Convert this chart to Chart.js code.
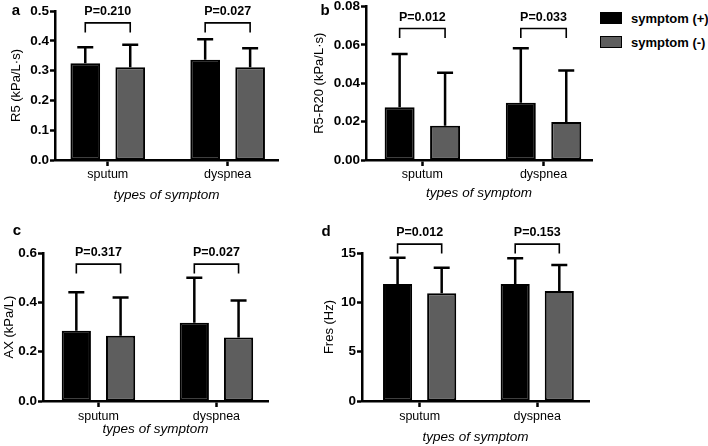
<!DOCTYPE html>
<html>
<head>
<meta charset="utf-8">
<script src="https://cdn.jsdelivr.net/npm/chart.js@4.4.0/dist/chart.umd.min.js"></script>
<style>
  body { margin: 0; background: #fff; }
  #wrap { position: relative; width: 708px; height: 446px; overflow: hidden; }
  canvas { position: absolute; }
  #legend { position: absolute; left: 600px; top: 6px; font: bold 13px "Liberation Sans", Arial, sans-serif; color: #000; }
  .item { display: flex; align-items: center; height: 24px; white-space: nowrap; }
  .box { box-sizing: border-box; width: 22px; height: 12px; border: 1.5px solid #000; margin-right: 9px; }
</style>
</head>
<body>
<div id="wrap">
  <canvas id="panelA" width="300" height="223" style="left:0;top:0"></canvas>
  <canvas id="panelB" width="300" height="223" style="left:300px;top:0"></canvas>
  <canvas id="panelC" width="300" height="223" style="left:0;top:223px"></canvas>
  <canvas id="panelD" width="300" height="223" style="left:300px;top:223px"></canvas>
  <div id="legend"></div>
</div>
<script>
"use strict";

// kategorier och serier
const categories = ['sputum', 'dyspnea'];
const seriesNames = ['symptom (+)', 'symptom (-)'];
const seriesColors = ['#000000', '#5e5e5e'];

// a - R5
const r5Pos = [0.325, 0.336];
const r5PosSd = [0.053, 0.069];
const r5Neg = [0.311, 0.311];
const r5NegSd = [0.076, 0.064];
const r5Ticks = ['0.0', '0.1', '0.2', '0.3', '0.4', '0.5'];
const r5P = ['P=0.210', 'P=0.027'];

// b - R5-R20
const r520Pos = [0.0275, 0.0299];
const r520PosSd = [0.0277, 0.0283];
const r520Neg = [0.0179, 0.0198];
const r520NegSd = [0.0276, 0.0269];
const r520Ticks = ['0.00', '0.02', '0.04', '0.06', '0.08'];
const r520P = ['P=0.012', 'P=0.033'];

// c - AX
const axPos = [0.285, 0.317];
const axPosSd = [0.156, 0.183];
const axNeg = [0.265, 0.257];
const axNegSd = [0.155, 0.150];
const axTicks = ['0.0', '0.2', '0.4', '0.6'];
const axP = ['P=0.317', 'P=0.027'];

// d - Fres
const fresPos = [11.86, 11.86];
const fresPosSd = [2.66, 2.60];
const fresNeg = [10.92, 11.15];
const fresNegSd = [2.59, 2.63];
const fresTicks = ['0', '5', '10', '15'];
const fresP = ['P=0.012', 'P=0.153'];

const FONT = '"Liberation Sans", Arial, sans-serif';

/**
 * Inställningar för varje delpanel (layout och texter)
 */
const panels = [
    { id: 'panelA', letter: 'a', letterPos: [16, 11], yTitle: 'R5 (kPa/L·s)',
      pos: r5Pos, posSd: r5PosSd, neg: r5Neg, negSd: r5NegSd, ticks: r5Ticks, pv: r5P,
      yMax: 0.5, yStep: 0.1, xMin: -0.44, xMax: 1.42, bracket: 0.46,
      pad: { top: 11, right: 22 }, yWidth: 55, xHeight: 63, yTitlePad: 8.9, xTitlePad: 20, tickPad: 1.5 },
    { id: 'panelB', letter: 'b', letterPos: [25, 11], yTitle: 'R5-R20 (kPa/L·s)',
      pos: r520Pos, posSd: r520PosSd, neg: r520Neg, negSd: r520NegSd, ticks: r520Ticks, pv: r520P,
      yMax: 0.08, yStep: 0.02, xMin: -0.465, xMax: 1.40, bracket: 0.0685,
      pad: { top: 6.5, right: 8 }, yWidth: 66, xHeight: 63, yTitlePad: 11.5, xTitlePad: 21.6, tickPad: 1.5 },
    { id: 'panelC', letter: 'c', letterPos: [17, 8], yTitle: 'AX (kPa/L)',
      pos: axPos, posSd: axPosSd, neg: axNeg, negSd: axNegSd, ticks: axTicks, pv: axP,
      yMax: 0.6, yStep: 0.2, xMin: -0.47, xMax: 1.437, bracket: 0.555,
      pad: { top: 30, right: 32 }, yWidth: 43, xHeight: 45, yTitlePad: 1.2, xTitlePad: 8.6, tickPad: 2 },
    { id: 'panelD', letter: 'd', letterPos: [26, 9], yTitle: 'Fres (Hz)',
      pos: fresPos, posSd: fresPosSd, neg: fresNeg, negSd: fresNegSd, ticks: fresTicks, pv: fresP,
      yMax: 15, yStep: 5, xMin: -0.49, xMax: 1.44, bracket: 15.9,
      pad: { top: 30, right: 11 }, yWidth: 62, xHeight: 45, yTitlePad: 21.2, xTitlePad: 0.9, tickPad: 2 }
];

/**
 * Gör om värden till punkter på den linjära x-axeln
 */
function toPoints(values) {
    return values.map((v, i) => ({ x: i, y: v }));
}

/**
 * Plugin som ritar felstaplar, P-värden med klammer och panelbokstav
 */
function extras(p) {
    return {
        id: 'extras',
        afterDatasetsDraw(chart) {
            const ctx = chart.ctx;
            const y = chart.scales.y;
            ctx.save();
            ctx.strokeStyle = '#000';
            ctx.lineWidth = 2.5;
            chart.data.datasets.forEach((ds, d) => {
                chart.getDatasetMeta(d).data.forEach((bar, i) => {
                    const top = y.getPixelForValue(ds.data[i].y + ds.sd[i]);
                    ctx.beginPath();
                    ctx.moveTo(bar.x, bar.y);
                    ctx.lineTo(bar.x, top);
                    ctx.moveTo(bar.x - 8, top);
                    ctx.lineTo(bar.x + 8, top);
                    ctx.stroke();
                });
            });

            const by = y.getPixelForValue(p.bracket);
            const m0 = chart.getDatasetMeta(0).data;
            const m1 = chart.getDatasetMeta(1).data;
            ctx.lineWidth = 1.6;
            ctx.fillStyle = '#000';
            ctx.font = 'bold 12.5px ' + FONT;
            ctx.textAlign = 'center';
            ctx.textBaseline = 'middle';
            categories.forEach((c, i) => {
                const x1 = m0[i].x, x2 = m1[i].x;
                ctx.beginPath();
                ctx.moveTo(x1, by + 9.5);
                ctx.lineTo(x1, by);
                ctx.lineTo(x2, by);
                ctx.lineTo(x2, by + 9.5);
                ctx.stroke();
                ctx.fillText(p.pv[i], (x1 + x2) / 2, by - 11.5);
            });

            ctx.font = 'bold 15px ' + FONT;
            ctx.fillText(p.letter, p.letterPos[0], p.letterPos[1]);
            ctx.restore();
        }
    };
}

/**
 * Skapar ett stapeldiagram för en panel
 */
function createPanel(p) {
    const ctx = document.getElementById(p.id).getContext('2d');
    new Chart(ctx, {
        type: 'bar',
        data: {
            datasets: [{
                label: seriesNames[0],
                data: toPoints(p.pos),
                sd: p.posSd,
                backgroundColor: seriesColors[0],
                borderColor: '#000',
                borderWidth: 2,
                borderSkipped: false,
                categoryPercentage: 0.75,
                barPercentage: 0.66
            }, {
                label: seriesNames[1],
                data: toPoints(p.neg),
                sd: p.negSd,
                backgroundColor: seriesColors[1],
                borderColor: '#000',
                borderWidth: 2,
                borderSkipped: false,
                categoryPercentage: 0.75,
                barPercentage: 0.66
            }]
        },
        options: {
            responsive: false,
            animation: false,
            devicePixelRatio: 1,
            layout: { padding: { left: 0, top: p.pad.top, right: p.pad.right, bottom: 0 } },
            plugins: { legend: { display: false }, tooltip: { enabled: false } },
            scales: {
                x: {
                    type: 'linear',
                    min: p.xMin,
                    max: p.xMax,
                    offset: false,
                    afterFit: s => { s.height = p.xHeight; s.paddingLeft = 0; s.paddingRight = 0; },
                    border: { color: '#000', width: 2.5 },
                    grid: { offset: false, drawOnChartArea: false, drawTicks: true, tickLength: 6, tickWidth: 2.5, tickColor: '#000' },
                    ticks: {
                        stepSize: 1,
                        includeBounds: false,
                        padding: p.tickPad,
                        color: '#000',
                        font: { family: FONT, size: 12.5 },
                        maxRotation: 0,
                        callback: v => categories[v]
                    },
                    title: {
                        display: true,
                        text: 'types of symptom',
                        color: '#000',
                        font: { family: FONT, size: 13.5, style: 'italic' },
                        padding: { top: 0, bottom: p.xTitlePad }
                    }
                },
                y: {
                    min: 0,
                    max: p.yMax,
                    afterFit: s => { s.width = p.yWidth; s.paddingTop = 0; s.paddingBottom = 0; },
                    border: { color: '#000', width: 2.5 },
                    grid: { drawOnChartArea: false, drawTicks: true, tickLength: 5, tickWidth: 2.5, tickColor: '#000' },
                    ticks: {
                        stepSize: p.yStep,
                        padding: 1,
                        color: '#000',
                        font: { family: FONT, size: 13.5, weight: 'bold' },
                        callback: (v, i) => p.ticks[i]
                    },
                    title: {
                        display: true,
                        text: p.yTitle,
                        color: '#000',
                        font: { family: FONT, size: 13 },
                        padding: { top: p.yTitlePad, bottom: 0 }
                    }
                }
            }
        },
        plugins: [extras(p)]
    });
}

/**
 * Bygger förklaringen uppe till höger
 */
function createLegend() {
    const legend = document.getElementById('legend');
    seriesNames.forEach((name, i) => {
        const item = document.createElement('div');
        item.className = 'item';
        const box = document.createElement('span');
        box.className = 'box';
        box.style.background = seriesColors[i];
        const label = document.createElement('span');
        label.textContent = name;
        item.appendChild(box);
        item.appendChild(label);
        legend.appendChild(item);
    });
}

panels.forEach(createPanel);
createLegend();
</script>
</body>
</html>
